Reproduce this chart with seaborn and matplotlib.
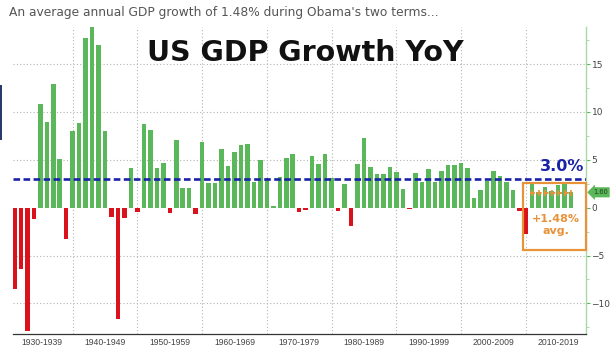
"""
US GDP growth YoY, 1930-2016, with Obama-era average box
"""
import matplotlib
matplotlib.use("Agg")
import matplotlib.pyplot as plt
from matplotlib.patches import Rectangle
from matplotlib.ticker import MultipleLocator, FixedLocator
import pandas as pd
import seaborn as sns

years = list(range(1930, 2017))
growth = [
    -8.5, -6.4, -12.9, -1.2, 10.8, 8.9, 12.9, 5.1, -3.3, 8.0,   # 1930s
    8.8, 17.7, 18.9, 17.0, 8.0, -1.0, -11.6, -1.1, 4.1, -0.5,   # 1940s
    8.7, 8.1, 4.1, 4.7, -0.6, 7.1, 2.1, 2.1, -0.7, 6.9,         # 1950s
    2.6, 2.6, 6.1, 4.4, 5.8, 6.5, 6.6, 2.7, 5.0, 3.1,           # 1960s
    0.2, 3.2, 5.2, 5.6, -0.5, -0.2, 5.4, 4.6, 5.6, 3.1,         # 1970s
    -0.3, 2.5, -1.9, 4.6, 7.3, 4.2, 3.5, 3.5, 4.2, 3.7,         # 1980s
    1.9, -0.1, 3.6, 2.7, 4.0, 2.7, 3.8, 4.5, 4.5, 4.7,          # 1990s
    4.1, 1.0, 1.8, 2.8, 3.8, 3.3, 2.7, 1.8, -0.3, -2.8,         # 2000s
    2.5, 1.6, 2.2, 1.7, 2.4, 2.6, 1.6,                          # 2010s
]
decade_labels = ["1930-1939", "1940-1949", "1950-1959", "1960-1969", "1970-1979",
                 "1980-1989", "1990-1999", "2000-2009", "2010-2019"]
benchmark = 3.0
obama_avg = 1.48
obama_years = list(range(2010, 2017))
last_value = 1.60

GREEN = "#5bb85a"
RED = "#d9121c"
BLUE = "#1a22a8"
ORANGE = "#e8923a"

df = pd.DataFrame({"year": years, "growth": growth})

sns.set_style("white")
plt.rcParams["font.family"] = ["DejaVu Sans"]

fig = plt.figure(figsize=(6.16, 3.55), dpi=100)
ax = fig.add_axes([0.0206, 0.0592, 0.9306, 0.8654])

sns.barplot(data=df, x="year", y="growth", color=GREEN, width=0.7,
            saturation=1, ax=ax, zorder=3)
# red for contractions
for bar, g in zip(ax.patches, growth):
    bar.set_facecolor(GREEN if g > 0 else RED)
    bar.set_edgecolor("none")

n = len(years)
ax.set_xlim(-0.27, n + 1.3)
ax.set_ylim(-13.2, 18.9)

# decade separators / labels (Bloomberg style, offset by one year)
sep_pos = [years.index(y) for y in range(1939, 2010, 10)]
lab_pos = [4.3] + [p + 5 for p in sep_pos]
ax.xaxis.set_major_locator(FixedLocator(sep_pos))
ax.xaxis.set_minor_locator(FixedLocator(lab_pos))
ax.set_xticklabels([])
ax.set_xticklabels(decade_labels, minor=True, fontsize=6.2, color="#444444",
                   family="Liberation Sans")
ax.tick_params(axis="x", which="major", length=8, width=0.8, color="#999999", direction="out")
ax.tick_params(axis="x", which="minor", length=0, pad=3)
for p in sep_pos:
    ax.axvline(p, color="#b5b5b5", ls=(0, (1, 2)), lw=0.8, zorder=0)

# right-hand value axis
ax.yaxis.tick_right()
ax.yaxis.set_major_locator(FixedLocator([-10, -5, 0, 5, 10, 15]))
ax.yaxis.set_minor_locator(MultipleLocator(2.5))
ax.tick_params(axis="y", which="major", length=3, color="#5bb85a", labelsize=6.5,
               labelcolor="#444444", pad=1)
ax.tick_params(axis="y", which="minor", length=2, color="#9fd49f")
for y in [-10, -5, 5, 10, 15]:
    ax.axhline(y, color="#b5b5b5", ls=(0, (1, 2)), lw=0.8, zorder=0)

for side in ["left", "top"]:
    ax.spines[side].set_visible(False)
ax.spines["right"].set_color("#a8d8a8")
ax.spines["right"].set_linewidth(1.0)
ax.spines["bottom"].set_color("#333333")
ax.spines["bottom"].set_linewidth(0.9)
ax.set_xlabel("")
ax.set_ylabel("")

# 3% benchmark
ax.axhline(benchmark, color=BLUE, lw=1.9, dashes=(2.5, 1.3), zorder=4)
ax.text(84.6, benchmark + 1.3, f"{benchmark:.1f}%", color=BLUE, fontsize=11.5,
        fontweight="bold", ha="center", va="center", zorder=5)

# Obama-era box and average
i0 = years.index(obama_years[0])
i1 = years.index(obama_years[-1])
ax.add_patch(Rectangle((i0 - 1.4, -4.4), n + 1.3 - (i0 - 1.4) - 0.05, 6.95,
                       fill=False, ec=ORANGE, lw=1.6, zorder=5, clip_on=False))
ax.plot([i0 - 0.3] + list(range(i0, i1 + 1)) + [i1 + 0.1],
        [obama_avg] * (len(obama_years) + 2),
        color=ORANGE, ls=(0, (2.5, 1)), lw=1.4, zorder=6,
        marker="|", markersize=5, markeredgewidth=1.2,
        markevery=list(range(1, len(obama_years) + 1)))
ax.text(83.6, -1.2, f"+{obama_avg:.2f}%", color=ORANGE, fontsize=8,
        fontweight="bold", ha="center", va="center", zorder=6)
ax.text(83.6, -2.4, "avg.", color=ORANGE, fontsize=8,
        fontweight="bold", ha="center", va="center", zorder=6)

# last value tag on the axis
ax.text(1.012, last_value, f"{last_value:.2f}", transform=ax.get_yaxis_transform(),
        fontsize=4.8, color="#1d3d1d", ha="left", va="center", clip_on=False,
        bbox=dict(boxstyle="larrow,pad=0.25", fc=GREEN, ec=GREEN, lw=0.5))

# titles
fig.text(0.495, 0.851, "US GDP Growth YoY", fontsize=20.5, fontweight="bold",
         color="#111111", ha="center", va="center")
fig.text(0.014, 0.964, "An average annual GDP growth of 1.48% during Obama's two terms...",
         fontsize=8.8, color="#555555", ha="left", va="center")

# page edge artifact on the left
fig.add_artist(Rectangle((0, 0.605), 0.004, 0.155, transform=fig.transFigure,
                         fc="#2b3a6b", ec="none"))

fig.savefig("out.png", dpi=100)
